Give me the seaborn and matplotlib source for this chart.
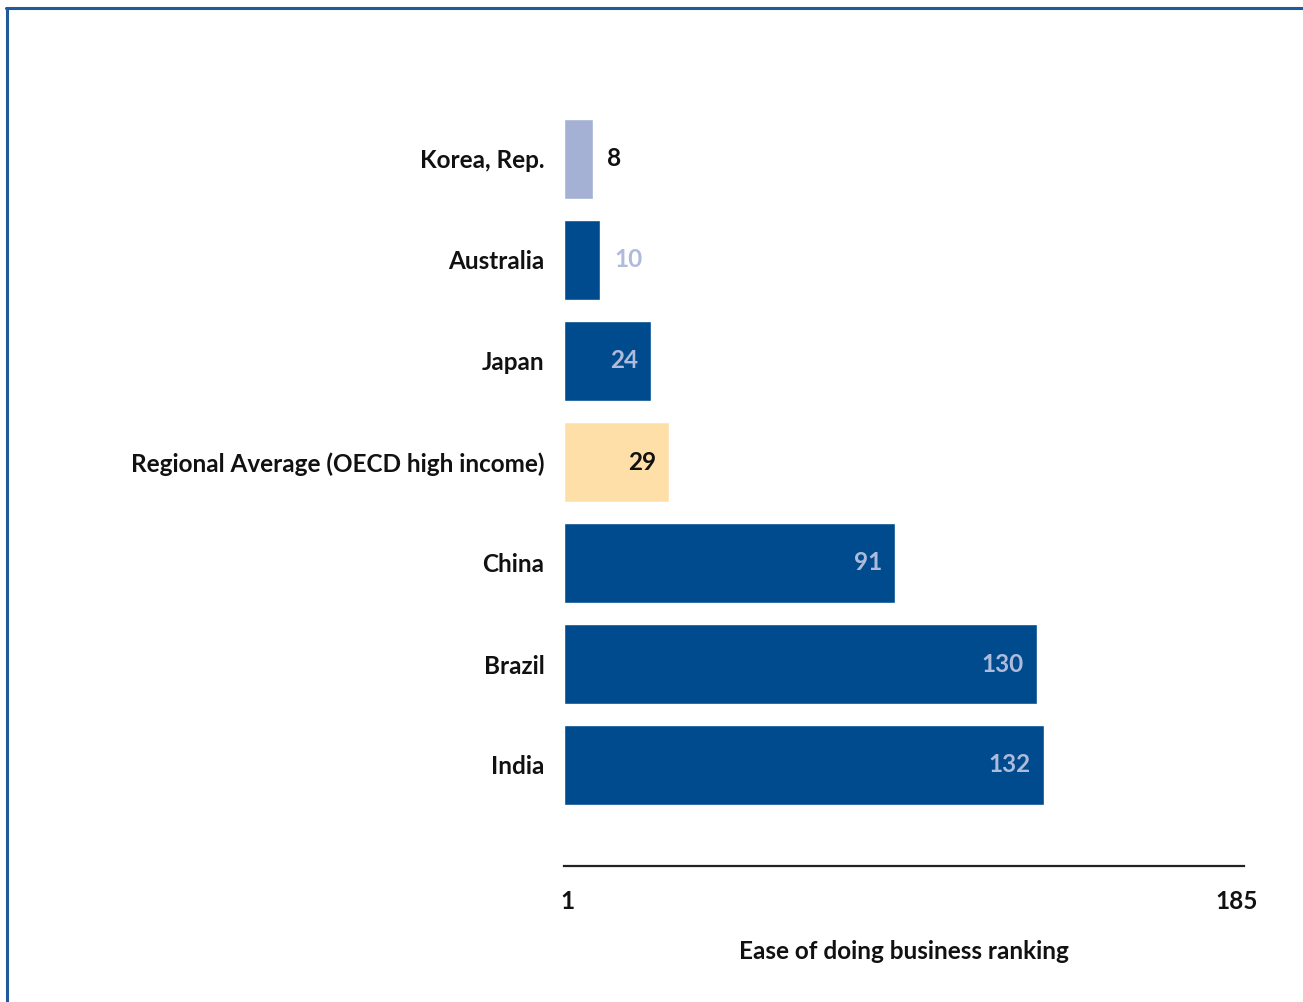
import matplotlib
matplotlib.use("Agg")
import matplotlib.pyplot as plt
from matplotlib.lines import Line2D
import seaborn as sns
import pandas as pd

# Ease of doing business ranking (lower is better)
countries = ["Korea, Rep.", "Australia", "Japan", "Regional Average (OECD high income)",
             "China", "Brazil", "India"]
rankings = [8, 10, 24, 29, 91, 130, 132]
bar_colors = ["#A4B1D4", "#004B8D", "#004B8D", "#FFDFA8", "#004B8D", "#004B8D", "#004B8D"]
label_colors = ["#111111", "#AEBBDB", "#AEBBDB", "#111111", "#AEBBDB", "#AEBBDB", "#AEBBDB"]
label_inside = [False, False, True, True, True, True, True]
axis_ticks = [1, 185]
axis_title = "Ease of doing business ranking"

sns.set_theme(style="white")
plt.rcParams["font.family"] = ["Lato", "DejaVu Sans"]

FS = 17.5

df = pd.DataFrame({"country": countries, "rank": rankings})

fig = plt.figure(figsize=(13.03, 10.02), dpi=100)
ax = fig.add_axes([564 / 1303, 1 - 866 / 1002, 680 / 1303, (866 - 108.5) / 1002])

sns.barplot(data=df, y="country", x="rank", hue="country", palette=bar_colors,
            orient="h", width=0.79, legend=False, ax=ax, saturation=1)

ax.set_xlim(0, 187)
ax.set_ylim(7.0, -0.5)

for i, (v, c, inside) in enumerate(zip(rankings, label_colors, label_inside)):
    if inside:
        ax.annotate(str(v), (v, i), xytext=(-13, 0), textcoords="offset pixels",
                    ha="right", va="center", fontsize=FS, fontweight="bold", color=c)
    else:
        ax.annotate(str(v), (v, i), xytext=(14, 0), textcoords="offset pixels",
                    ha="left", va="center", fontsize=FS, fontweight="bold", color=c)

for s in ["top", "right", "left"]:
    ax.spines[s].set_visible(False)
ax.spines["bottom"].set_color("#222222")
ax.spines["bottom"].set_linewidth(1.6)

ax.set_xticks(axis_ticks)
ax.set_xticklabels([str(t) for t in axis_ticks], fontsize=FS, fontweight="bold", color="#111111")
ax.tick_params(axis="x", length=0, pad=17)
ax.tick_params(axis="y", length=0, pad=14, labelsize=FS, labelcolor="#111111")
for lab in ax.get_yticklabels():
    lab.set_fontweight("bold")
ax.set_ylabel("")
ax.set_xlabel(axis_title, fontsize=FS, fontweight="bold", color="#111111", labelpad=20)

# frame lines along the top and left edge of the figure
fig.add_artist(Line2D([6 / 1303, 1], [1 - 8 / 1002, 1 - 8 / 1002], transform=fig.transFigure,
                      color="#1F5A9A", linewidth=2.2))
fig.add_artist(Line2D([7 / 1303, 7 / 1303], [0, 1 - 8 / 1002], transform=fig.transFigure,
                      color="#1F5A9A", linewidth=2.2))

fig.savefig("out.png", dpi=100)
